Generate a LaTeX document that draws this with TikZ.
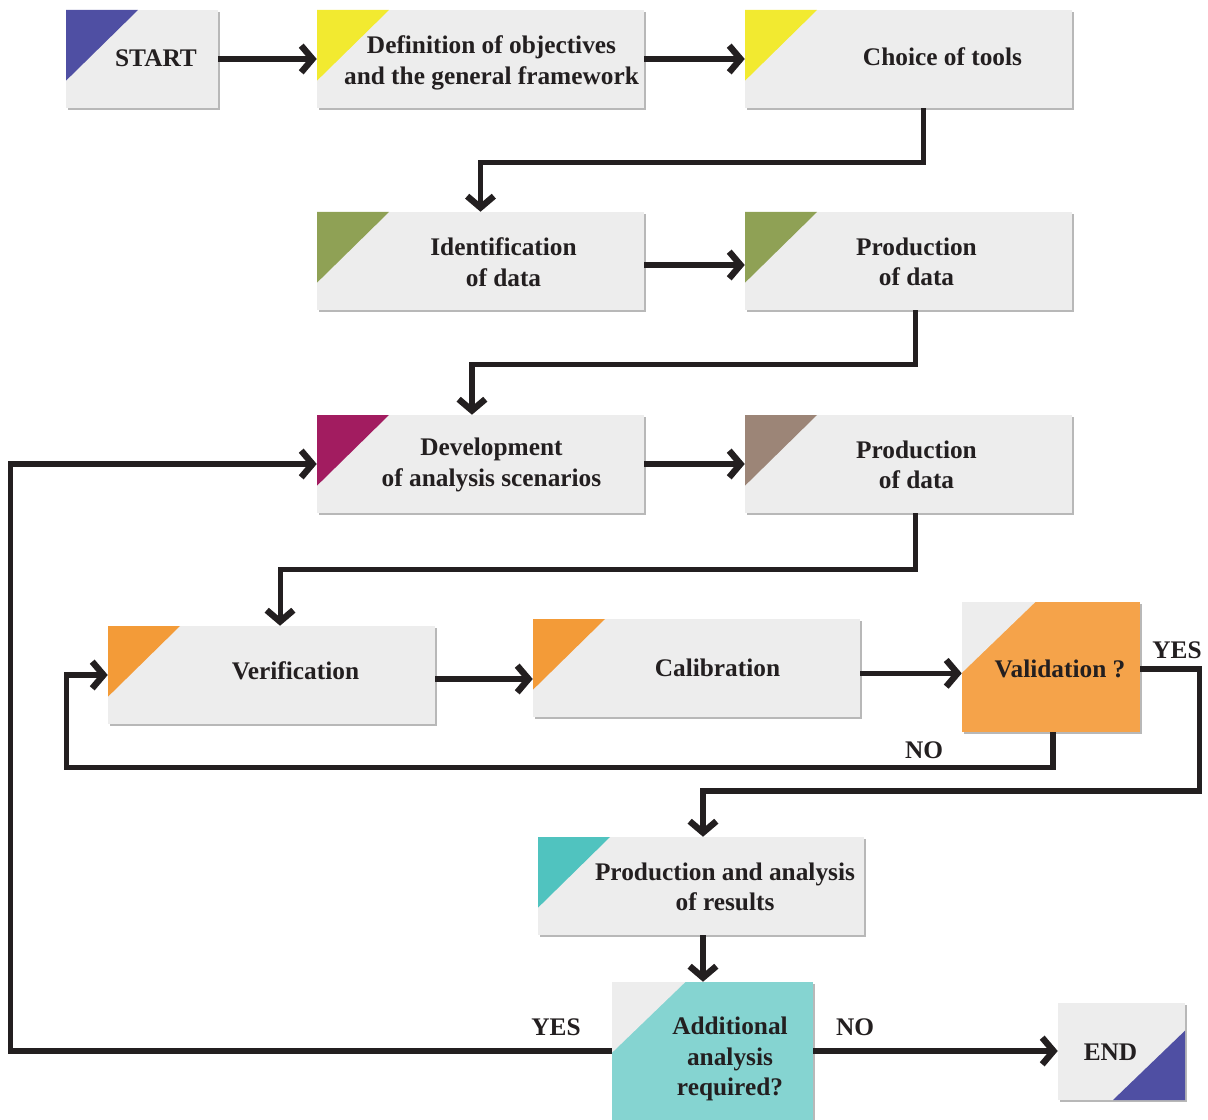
\documentclass[tikz,border=0pt]{standalone}
\usepackage{fontspec}
\setmainfont{Liberation Serif}[BoldFont={Liberation Serif Bold}]
\usetikzlibrary{arrows.meta,shadows,fit,calc}

\definecolor{boxgray}{HTML}{EDEDED}
\definecolor{inkdark}{HTML}{231F20}
\definecolor{cblue}{HTML}{4F4FA3}
\definecolor{cyellow}{HTML}{F2EA30}
\definecolor{colive}{HTML}{8FA155}
\definecolor{cmagenta}{HTML}{A21C60}
\definecolor{ctaupe}{HTML}{9C8577}
\definecolor{corange}{HTML}{F39B38}
\definecolor{corangefill}{HTML}{F5A34A}
\definecolor{cteal}{HTML}{50C3BF}
\definecolor{ctealfill}{HTML}{85D4D1}

\tikzset{
  stepbox/.style={fill=boxgray, inner sep=0pt, draw=none,
    drop shadow={shadow xshift=1.2pt, shadow yshift=-1.6pt, opacity=0.28, fill=black}},
  corner/.style={path picture={
    \fill[#1] (path picture bounding box.north west)
      -- ([xshift=54pt]path picture bounding box.north west)
      -- ([yshift=-53pt]path picture bounding box.north west) -- cycle;}},
  graycorner/.style={path picture={
    \fill[boxgray] (path picture bounding box.north west)
      -- ([xshift=55pt]path picture bounding box.north west)
      -- ([yshift=-53pt]path picture bounding box.north west) -- cycle;}},
  endcorner/.style={path picture={
    \fill[#1] (path picture bounding box.south east)
      -- ([xshift=-54pt]path picture bounding box.south east)
      -- ([yshift=52pt]path picture bounding box.south east) -- cycle;}},
  lbl/.style={font=\fontsize{19}{23}\selectfont\bfseries, text=inkdark, align=center, inner sep=0pt},
  flow/.style={draw=inkdark, line width=3.8pt,
    -{Straight Barb[length=8.5pt, width=20pt, line width=4.8pt]}}
}

\begin{document}
\begin{tikzpicture}[x=0.75pt, y=-0.75pt]
\useasboundingbox (0,0) rectangle (1208,1120);

% boxes
\node[stepbox, corner=cblue,    fit={(66,10) (218,108)}]   (start)  {};
\node[stepbox, corner=cyellow,  fit={(317,10) (644,108)}]  (def)    {};
\node[stepbox, corner=cyellow,  fit={(745,10) (1072,108)}] (choice) {};
\node[stepbox, corner=colive,   fit={(317,212) (644,310)}] (ident)  {};
\node[stepbox, corner=colive,   fit={(745,212) (1072,310)}] (prodA) {};
\node[stepbox, corner=cmagenta, fit={(317,415) (644,513)}] (dev)    {};
\node[stepbox, corner=ctaupe,   fit={(745,415) (1072,513)}] (prodB) {};
\node[stepbox, corner=corange,  fit={(108,626) (435,724)}] (verif)  {};
\node[stepbox, corner=corange,  fit={(533,619) (860,717)}] (calib)  {};
\node[stepbox, fill=corangefill, graycorner, fit={(962,602) (1140,732)}] (valid) {};
\node[stepbox, corner=cteal,    fit={(538,837) (864,935)}] (pa)     {};
\node[stepbox, fill=ctealfill, graycorner, fit={(612,982) (813,1124)}] (add) {};
\node[stepbox, endcorner=cblue, fit={(1058,1003) (1185,1100)}] (endn) {};

% texts
\node[lbl] at ($(start.center)+(14,-1)$)  {START};
\node[lbl] at ($(def.center)+(11,4)$)     {Definition of objectives\\and the general framework};
\node[lbl] at ($(choice.center)+(34,-2)$) {Choice of tools};
\node[lbl] at ($(ident.center)+(23,1)$)   {Identification\\of data};
\node[lbl] at ($(prodA.center)+(8,1)$)    {Production\\of data};
\node[lbl] at ($(dev.center)+(11,1)$)     {Development\\of analysis scenarios};
\node[lbl] at ($(prodB.center)+(8,1)$)    {Production\\of data};
\node[lbl] at ($(verif.center)+(24,-4)$)  {Verification};
\node[lbl] at ($(calib.center)+(21,0)$)   {Calibration};
\node[lbl] at ($(valid.center)+(9,2)$)    {Validation ?};
\node[lbl] at ($(pa.center)+(24,1)$)      {Production and analysis\\of results};
\node[lbl] at (730,1059)                  {Additional\\analysis\\required?};
\node[lbl] at ($(endn.center)+(-11,1)$)   {END};

% branch labels
\node[lbl] (yes1) at (1177,650) {YES};
\node[lbl] (no1)  at (924,750)  {NO};
\node[lbl] (yes2) at (556,1027) {YES};
\node[lbl] (no2)  at (855,1027) {NO};

% connectors
\draw[flow] (start.east) -- (def.west);
\draw[flow] (def.east) -- (choice.west);
\draw[flow] ([xshift=11pt]choice.south) -- ++(0,54) -| (ident.north);
\draw[flow] ([yshift=-3pt]ident.east) -- ([yshift=-3pt]ident.east -| prodA.west);
\draw[flow] ([xshift=5pt]prodA.south) -- ++(0,54) -| ([xshift=-6.4pt]dev.north);
\draw[flow] (dev.east) -- (prodB.west);
\draw[flow] ([xshift=5pt]prodB.south) -- ++(0,56) -| ([xshift=6.4pt]verif.north);
\draw[flow] ([yshift=-3pt]verif.east) -- ([yshift=-3pt]verif.east -| calib.west);
\draw[flow] ([yshift=-4pt]calib.east) -- ([yshift=-4pt]calib.east -| valid.west);
\draw[flow] ([xshift=1.5pt]valid.south) -- ++(0,35) -| ([xshift=-31pt]verif.west) -- (verif.west);
\draw[flow] ([yshift=-1.5pt]valid.east) -- ++(59,0) -- ++(0,122) -| ([xshift=1.5pt]pa.north);
\draw[flow] ([xshift=1.5pt]pa.south) -- ([xshift=1.5pt]pa.south |- add.north);
\draw[flow] ([yshift=1.5pt]add.west) -| ([xshift=-229.5pt]dev.west) -- (dev.west);
\draw[flow] ([yshift=1.5pt]add.east) -- ([yshift=1.5pt]add.east -| endn.west);
\end{tikzpicture}
\end{document}
